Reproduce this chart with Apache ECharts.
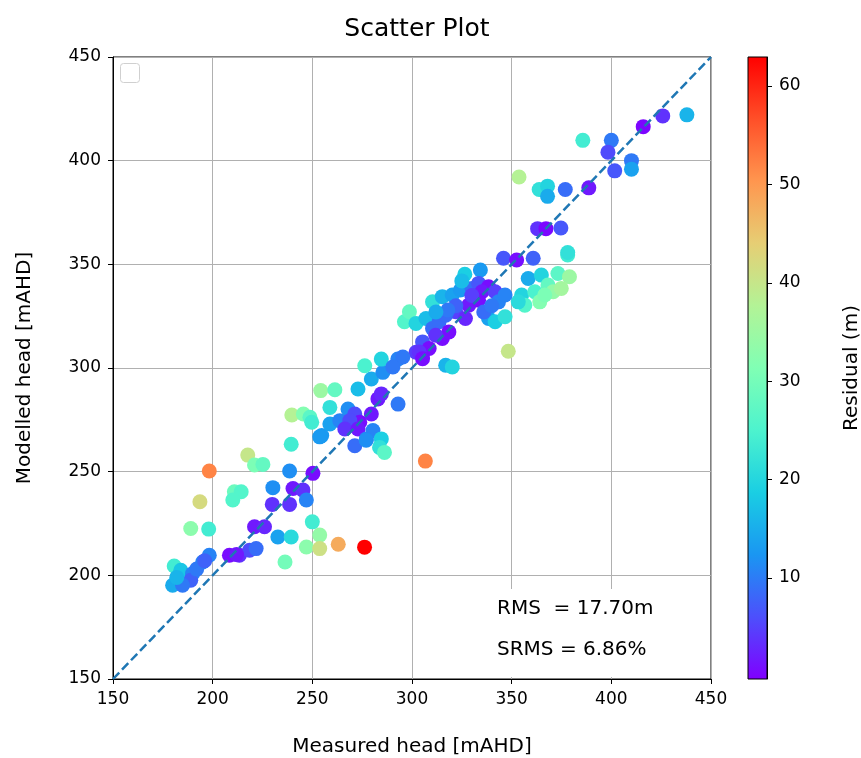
<!DOCTYPE html>
<html>
<head>
<meta charset="utf-8">
<script src="https://cdn.jsdelivr.net/npm/echarts@6/dist/echarts.min.js"></script>
<style>
html,body{margin:0;padding:0;background:#fff;}
#chart{width:861px;height:758px;}
</style>
</head>
<body>
<div id="chart"></div>
<script>
// Measured head [mAHD]
const measured = [
180.7,184,189.9,195,198.3,179.9,189,184.9,182,192,196,
198.3,193.6,189,198,217.6,221,225.2,210.9,214.3,210.1,239.4,238.6,230.2,240.3,245.3,229.9,238.6,247,250.3,
221,226,232.7,239.4,236.3,247,253.7,253.7,250,263,208.4,213.4,218.5,221.8,212,276.2,306.7,
239.7,245.5,248.8,249.7,254.2,261.3,258.8,272.9,254.7,258.8,263.8,267.9,271.3,273.8,268.8,266.3,272.9,271.3,
277.1,280.4,284.6,283.7,286.2,279.6,282.9,284.6,293,279.6,285.4,292.9,284.6,276.3,302,253.7,277,
345.9,352.5,360.8,378.1,326.5,334.3,358.3,364.9,368.2,373.2,379,370.8,374.9,355,361.6,356.6,364.1,366.6,353.3,
296.2,298.7,302,310.3,315.2,320.2,324.3,330.1,333.4,338.4,335.1,341.7,343.4,346.7,338.4,341.7,346.7,
321.9,328.5,333.4,326.8,307,310.3,313.6,316.9,305.3,308.6,315.2,318.5,311.9,303.6,305.3,316.9,320.2,295.4,290.4,348.3,
385.7,400,398.3,401.7,410.1,410.1,416,425.8,437.9,353.7,363.8,368,368,376.9,388.7,363,367.2,374.7,378.1,
322,318,330,336,340,312,325
];
// Modelled head [mAHD]
const modelled = [
204.5,202.4,200.8,206.4,209.7,195.2,197.6,195.2,199,203,207,
250.3,235.5,222.6,222.3,258,253.2,253.5,240.3,240.3,236.3,263.2,250.3,242.3,241.9,241.1,234.2,234.2,236.3,249.2,
223.4,223.4,218.5,218.5,206.4,213.7,219.4,212.9,225.8,215,209.7,209.7,212.1,212.9,210,213.6,255.1,
277.3,277.8,276.2,273.8,289.1,289.5,281,289.9,267.4,273,274.6,280.2,277.8,273.8,274.6,270.6,270.6,262.5,
265.8,269.8,265.8,261.7,259.3,277.8,285.1,287.5,282.6,294.7,297.9,304.3,304.3,301.1,307.6,266.8,265.2,
352.9,352.1,352.9,354.5,345.2,347.3,343.2,344.8,340,345.6,344,336.8,338.4,335.2,336.8,330.3,331.9,335.2,331.9,
322.3,327.1,321.5,331.9,334.4,335.2,337.6,338.4,340.8,339.2,336.8,336.8,331.9,335.2,323.9,322.3,324.7,
327.1,330.3,332.7,323.9,323.9,319,322.3,325.5,312.6,309.4,314.2,317.4,315.8,307.7,304.5,301.3,300.5,305.3,300.5,308.1,
409.8,409.8,404.1,395.1,400,395.9,416.4,421.6,422.1,392.1,386.1,387.7,382.8,386.1,386.9,367.2,367.2,367.5,355.7,
330,328,335,327,330,327,342
];
// Residual (m)
const residual = [
24,18,11,11,11,15,8,10,16,10,8,
52,42,33,24,40,31,28,29,26,26,24,12,12,2,4,4,4,11,1,
2,3,14,21,30,33,34,41,24,48,1,4,6,9,2,63,52,
38,32,27,24,35,28,22,17,13,14,11,12,6,1,6,4,2,9,
11,11,19,22,27,2,2,3,10,15,12,11,20,25,5,13,12,
7,1,8,24,19,13,15,20,28,27,35,34,36,20,25,26,32,31,21,
26,28,20,22,16,14,13,9,7,1,2,5,11,11,14,19,22,
5,2,1,3,17,9,9,9,7,1,1,1,4,4,1,16,20,10,10,40,
24,10,6,7,10,14,0.4,4,16,38,22,20,15,9,2,4,0.5,7,22,
8,10,5,9,10,15,17
];
// Axis ticks
const axisTicks = [150, 200, 250, 300, 350, 400, 450];
const cbarTicks = [10, 20, 30, 40, 50, 60];
const oneToOne = [[150, 150], [450, 450]];
const statsText = ['RMS  = 17.70m', 'SRMS = 6.86%'];

const rainbow = ['#8000ff','#4d4ffc','#1a96f2','#1acee3','#4df3ce','#80ffb4','#b3f396','#e6ce74','#ff964f','#ff4f28','#ff0000'];
const cMin = 0, cMax = 63;

const points = measured.map((m, i) => [m, modelled[i], residual[i]]);

const chart = echarts.init(document.getElementById('chart'), null, {renderer: 'canvas'});
const FONT = 'DejaVu Sans';
const TICK_FS = 17, LABEL_FS = 20;
const gradStops = rainbow.map((c, i) => ({offset: 1 - i / (rainbow.length - 1), color: c}));

const tickLabel = {fontFamily: FONT, fontSize: TICK_FS, color: '#000', margin: 12};
const tickStyle = {show: true, length: 5, lineStyle: {color: '#000'}};

chart.setOption({
  backgroundColor: '#fff',
  animation: false,
  textStyle: {fontFamily: FONT},
  title: {
    text: 'Scatter Plot', left: 412, top: 12, textAlign: 'center',
    textStyle: {fontFamily: FONT, fontSize: 25, fontWeight: 'normal', color: '#000'}
  },
  grid: [
    {left: 113, top: 57, width: 598, height: 622, show: true, borderColor: '#000', borderWidth: 1,
     backgroundColor: 'transparent', containLabel: false, outerBoundsMode: 'none'},
    {left: 748, top: 57, width: 19, height: 622, show: true, borderColor: '#000', borderWidth: 1,
     containLabel: false, outerBoundsMode: 'none',
     backgroundColor: {type: 'linear', x: 0, y: 0, x2: 0, y2: 1, colorStops: gradStops}}
  ],
  xAxis: [
    {type: 'value', gridIndex: 0, min: 150, max: 450, interval: 50,
     name: 'Measured head [mAHD]', nameLocation: 'middle', nameGap: 58,
     nameTextStyle: {fontFamily: FONT, fontSize: LABEL_FS, color: '#000'},
     axisLine: {show: true, onZero: false, lineStyle: {color: '#000'}},
     axisTick: tickStyle,
     axisLabel: tickLabel,
     splitLine: {show: true, lineStyle: {color: '#b0b0b0', width: 1}}},
    {type: 'value', gridIndex: 1, min: 0, max: 1, show: false}
  ],
  yAxis: [
    {type: 'value', gridIndex: 0, min: 150, max: 450, interval: 50,
     name: 'Modelled head [mAHD]', nameLocation: 'middle', nameGap: 78,
     nameTextStyle: {fontFamily: FONT, fontSize: LABEL_FS, color: '#000'},
     axisLine: {show: true, onZero: false, lineStyle: {color: '#000'}},
     axisTick: tickStyle,
     axisLabel: tickLabel,
     splitLine: {show: true, lineStyle: {color: '#b0b0b0', width: 1}}},
    {type: 'value', gridIndex: 1, position: 'right', min: -0.26, max: 62.95,
     name: 'Residual (m)', nameLocation: 'middle', nameGap: 75, nameRotate: 90,
     nameTextStyle: {fontFamily: FONT, fontSize: LABEL_FS, color: '#000'},
     axisLine: {show: true, onZero: false, lineStyle: {color: '#000'}},
     axisTick: {show: true, length: 5, lineStyle: {color: '#000'}, customValues: cbarTicks},
     axisLabel: {fontFamily: FONT, fontSize: TICK_FS, color: '#000', margin: 12, customValues: cbarTicks},
     splitLine: {show: false}}
  ],
  visualMap: {
    show: false, type: 'continuous', dimension: 2, seriesIndex: 0,
    min: cMin, max: cMax, inRange: {color: rainbow}
  },
  graphic: [
    {type: 'rect', left: 120, top: 63, z: 100,
     shape: {width: 19, height: 19, r: 3},
     style: {fill: '#fff', stroke: '#d0d0d0', lineWidth: 1}},
    {type: 'rect', left: 484, top: 589, z: 100,
     shape: {width: 224, height: 88},
     style: {fill: '#fff', stroke: 'none'}},
    {type: 'text', left: 497, top: 599, z: 101,
     style: {text: statsText[0], font: '20px "DejaVu Sans"', fill: '#000'}},
    {type: 'text', left: 497, top: 640, z: 101,
     style: {text: statsText[1], font: '20px "DejaVu Sans"', fill: '#000'}}
  ],
  series: [
    {type: 'scatter', xAxisIndex: 0, yAxisIndex: 0, data: points, symbolSize: 15,
     itemStyle: {opacity: 1}, z: 2},
    {type: 'line', xAxisIndex: 0, yAxisIndex: 0, data: oneToOne, showSymbol: false, symbol: 'none',
     lineStyle: {color: '#1f77b4', width: 2.5, type: [9, 4]}, z: 5, silent: true}
  ]
});
</script>
</body>
</html>
